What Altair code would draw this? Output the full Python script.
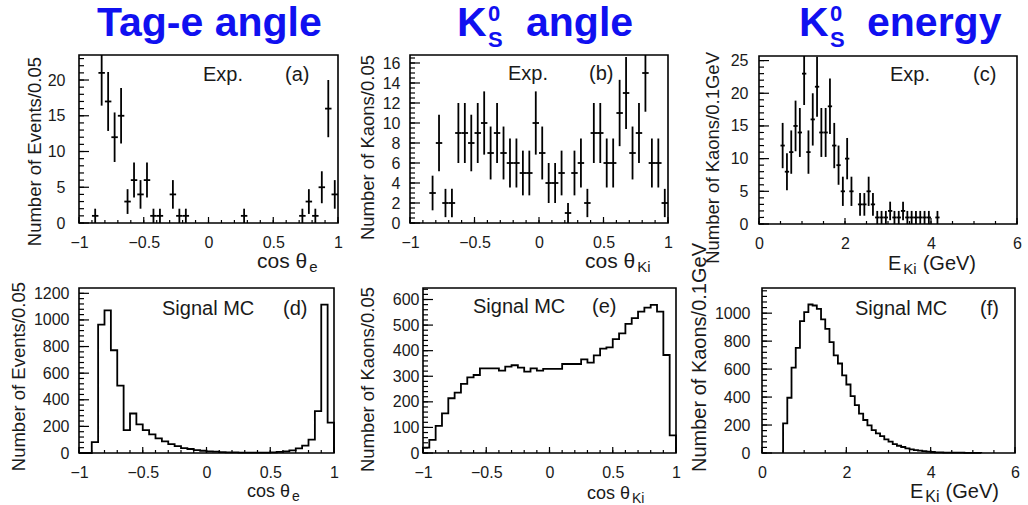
import altair as alt
import numpy as np
import pandas as pd

W, H = 1028, 505
FONT = "Liberation Sans"
TXT = "#1a1a1a"
BLUE = "#1010f0"

# ---------------- data ----------------
# (a) Tag-e angle, experiment: bin centres and counts
a_x = [-0.875, -0.825, -0.775, -0.725, -0.675, -0.625, -0.575, -0.525, -0.475, -0.425,
       -0.375, -0.275, -0.225, -0.175, 0.275, 0.725, 0.775, 0.825, 0.875, 0.925, 0.975]
a_n = [1, 21, 17, 12, 15, 3, 6, 4, 6, 1, 1, 4, 1, 1, 1, 1, 3, 1, 5, 16, 4]

# (b) K0S angle, experiment
b_x = [-0.825, -0.775, -0.725, -0.675, -0.625, -0.575, -0.525, -0.475, -0.425, -0.375,
       -0.325, -0.275, -0.225, -0.175, -0.125, -0.075, -0.025, 0.025, 0.075, 0.125,
       0.175, 0.225, 0.275, 0.325, 0.375, 0.425, 0.475, 0.525, 0.575, 0.625,
       0.675, 0.725, 0.775, 0.825, 0.875, 0.925, 0.975]
b_n = [3, 8, 2, 2, 9, 9, 8, 9, 10, 7, 9, 7, 6, 6, 5, 5, 10, 7, 4, 4,
       5, 1, 5, 6, 2, 9, 9, 6, 6, 11, 13, 7, 9, 15, 6, 6, 2]

# (c) K0S energy, experiment
c_x = [0.55, 0.65, 0.75, 0.85, 0.95, 1.05, 1.15, 1.25, 1.35, 1.45, 1.55, 1.65, 1.75, 1.85,
       1.95, 2.05, 2.15, 2.35, 2.45, 2.55, 2.65, 2.75, 2.85, 2.95, 3.05, 3.15, 3.25, 3.35,
       3.45, 3.55, 3.65, 3.75, 3.85, 3.95, 4.15]
c_n = [12, 8, 11, 15, 14, 23, 11, 16, 21, 14, 14, 18, 12, 9, 5, 10, 5, 3, 3, 5, 3, 1, 1, 1,
       2, 1, 1, 2, 1, 1, 1, 1, 1, 1, 1]

# (d) Tag-e angle, signal MC: 40 bins of 0.05 from -1
d_start, d_w = -1.0, 0.05
d_v = [0, 0, 82, 965, 1072, 772, 507, 172, 297, 215, 172, 140, 110, 88, 67, 52, 37, 30, 22, 17,
       12, 10, 7, 5, 4, 3, 3, 3, 3, 3, 5, 8, 12, 20, 35, 55, 100, 315, 1115, 228]

# (e) K0S angle, signal MC: 40 bins of 0.05 from -1
e_start, e_w = -1.0, 0.05
e_v = [21, 51, 106, 155, 214, 236, 270, 296, 305, 331, 331, 331, 322, 338, 343, 334, 318, 331,
       322, 329, 329, 329, 348, 348, 348, 366, 353, 382, 408, 413, 445, 468, 505, 527, 553,
       568, 579, 553, 383, 69]

# (f) K0S energy, signal MC: bins of 0.1 GeV from 0.5
f_start, f_w = 0.5, 0.1
f_v = [212, 395, 610, 752, 943, 1007, 1062, 1055, 1031, 955, 888, 793, 698, 640, 555, 490, 407,
       343, 281, 236, 198, 164, 140, 121, 98, 81, 64, 52, 43, 33, 26, 21, 17, 14, 10, 7, 5, 4,
       3, 3, 2, 2, 2, 1, 1, 1, 1]

# tick label values
ang_major = [-1, -0.5, 0, 0.5, 1]
en_major = [0, 2, 4, 6]

# ---------------- panel layout ----------------
panels = {
    "a": dict(xd=[-1, 1], yd=[0, 23.5], xr=[79, 338], yr=[223, 55], xmaj=ang_major,
              xmin=np.round(np.arange(-1, 1.001, 0.1), 3), ymaj=[0, 5, 10, 15, 20],
              ymin=np.arange(0, 24, 1), lp=14, ls=16),
    "b": dict(xd=[-1, 1], yd=[0, 16.8], xr=[410, 668], yr=[223, 55], xmaj=ang_major,
              xmin=np.round(np.arange(-1, 1.001, 0.1), 3), ymaj=list(range(0, 17, 2)),
              ymin=np.arange(0, 16.8, 0.5), lp=10, ls=16),
    "c": dict(xd=[0, 6], yd=[0, 25.7], xr=[759, 1017], yr=[224, 56], xmaj=en_major,
              xmin=np.arange(0, 6.01, 0.5), ymaj=[0, 5, 10, 15, 20, 25],
              ymin=np.arange(0, 26, 1), lp=11, ls=16),
    "d": dict(xd=[-1, 1], yd=[0, 1240], xr=[79, 334], yr=[453, 288], xmaj=ang_major,
              xmin=np.round(np.arange(-1, 1.001, 0.1), 3), ymaj=list(range(0, 1201, 200)),
              ymin=np.arange(0, 1240, 40), lp=10, ls=16),
    "e": dict(xd=[-1, 1], yd=[0, 645], xr=[423, 676], yr=[453, 288], xmaj=ang_major,
              xmin=np.round(np.arange(-1, 1.001, 0.1), 3), ymaj=list(range(0, 601, 100)),
              ymin=np.arange(0, 645, 20), lp=4, ls=16),
    "f": dict(xd=[0, 6], yd=[0, 1180], xr=[762, 1015], yr=[453, 288], xmaj=en_major,
              xmin=np.arange(0, 6.01, 0.5), ymaj=list(range(0, 1001, 200)),
              ymin=np.arange(0, 1180, 40), lp=12, ls=16),
}


def scales(p):
    sx = alt.Scale(domain=p["xd"], range=p["xr"], nice=False, zero=False, clamp=True)
    sy = alt.Scale(domain=p["yd"], range=p["yr"], nice=False, zero=False, clamp=True)
    return sx, sy


def frame_layers(p):
    sx, sy = scales(p)
    df = pd.DataFrame({"x0": [p["xd"][0]], "x1": [p["xd"][1]],
                       "y0": [p["yd"][0]], "y1": [p["yd"][1]]})
    common = dict(format="~r", ticks=False, domain=False, grid=False, labelFlush=False,
                  labelOverlap=False, labelFontSize=p["ls"], labelFont=FONT, labelColor=TXT,
                  title=None)
    xaxis = alt.Axis(orient="bottom", offset=p["yr"][0] - H, values=list(p["xmaj"]),
                     labelPadding=11, **common)
    yaxis = alt.Axis(orient="left", offset=-p["xr"][0], values=list(p["ymaj"]),
                     labelPadding=p["lp"], **common)
    frame = alt.Chart(df).mark_rect(fillOpacity=0, stroke="black", strokeWidth=1.6).encode(
        x=alt.X("x0:Q", scale=sx, axis=xaxis), x2="x1:Q",
        y=alt.Y("y0:Q", scale=sy, axis=yaxis), y2="y1:Q")
    out = [frame]
    # inward ticks
    for vals, ln in ((p["xmaj"], 6), (p["xmin"], 3)):
        out.append(alt.Chart(pd.DataFrame({"t": list(vals)})).mark_rule(
            color="black", strokeWidth=1.2).encode(
            x=alt.X("t:Q", scale=sx, axis=None),
            y=alt.value(p["yr"][0]), y2=alt.value(p["yr"][0] - ln)))
    for vals, ln in ((p["ymaj"], 10), (p["ymin"], 5)):
        out.append(alt.Chart(pd.DataFrame({"t": list(vals)})).mark_rule(
            color="black", strokeWidth=1.2).encode(
            y=alt.Y("t:Q", scale=sy, axis=None),
            x=alt.value(p["xr"][0]), x2=alt.value(p["xr"][0] + ln)))
    return out


def points_layers(p, xs, ns, bw):
    sx, sy = scales(p)
    n = np.array(ns, dtype=float)
    x = np.array(xs, dtype=float)
    err = np.sqrt(n)
    df = pd.DataFrame({"x": x, "n": n, "lo": n - err, "hi": n + err,
                       "xl": x - bw / 2, "xr": x + bw / 2})
    v = alt.Chart(df).mark_rule(color="black", strokeWidth=1.8).encode(
        x=alt.X("x:Q", scale=sx, axis=None),
        y=alt.Y("lo:Q", scale=sy, axis=None), y2="hi:Q")
    h = alt.Chart(df).mark_rule(color="black", strokeWidth=1.8).encode(
        x=alt.X("xl:Q", scale=sx, axis=None), x2="xr:Q",
        y=alt.Y("n:Q", scale=sy, axis=None))
    return [v, h]


def hist_layer(p, start, w, vals):
    sx, sy = scales(p)
    edges = [start + i * w for i in range(len(vals) + 1)]
    xs = [edges[0]] + edges + [edges[-1]]
    ys = [0] + list(vals) + [vals[-1], 0]
    df = pd.DataFrame({"x": np.round(xs, 4), "y": ys, "i": range(len(xs))})
    return alt.Chart(df).mark_line(interpolate="step-after", color="black", strokeWidth=1.8).encode(
        x=alt.X("x:Q", scale=sx, axis=None),
        y=alt.Y("y:Q", scale=sy, axis=None),
        order="i:Q")


def text(t, x, y, size, color=TXT, align="left", baseline="alphabetic", angle=0, bold=False):
    kw = dict(align=align, baseline=baseline, font=FONT, fontSize=size, color=color)
    if angle:
        kw["angle"] = angle
    if bold:
        kw["fontWeight"] = "bold"
    return alt.Chart(pd.DataFrame({"t": [t]})).mark_text(**kw).encode(
        text="t:N", x=alt.value(x), y=alt.value(y))


layers = []
for key in "abcdef":
    layers += frame_layers(panels[key])

layers += points_layers(panels["a"], a_x, a_n, 0.05)
layers += points_layers(panels["b"], b_x, b_n, 0.05)
layers += points_layers(panels["c"], c_x, c_n, 0.1)
layers.append(hist_layer(panels["d"], d_start, d_w, d_v))
layers.append(hist_layer(panels["e"], e_start, e_w, e_v))
layers.append(hist_layer(panels["f"], f_start, f_w, f_v))

# in-panel labels
for t, x, y in [("Exp.", 203, 81), ("(a)", 285, 81), ("Exp.", 508, 80), ("(b)", 589, 80),
                ("Exp.", 890, 81), ("(c)", 973, 81), ("Signal MC", 162, 315), ("(d)", 283, 315),
                ("Signal MC", 473, 313), ("(e)", 592, 313), ("Signal MC", 855, 315),
                ("(f)", 980, 315)]:
    layers.append(text(t, x, y, 20))

# y-axis titles (rotated, anchored at the top end)
for t, x, y, s in [("Number of Events/0.05", 35, 57, 18.5), ("Number of Kaons/0.05", 368, 55, 18.5),
                   ("Number of Kaons/0.1GeV", 713, 52, 18.5), ("Number of Events/0.05", 19, 282, 18.5),
                   ("Number of Kaons/0.05", 368, 287, 18.5), ("Number of Kaons/0.1GeV", 700, 243, 20)]:
    layers.append(text(t, x, y, s, align="right", baseline="middle", angle=270))

# x-axis titles with subscripts:  (main, sub, left x, baseline, main size, sub size)
for main, sub, xl, yb, s, ss in [("cos θ", "e", 257, 268, 21, 15), ("cos θ", "Ki", 585, 268, 21, 15),
                                 ("cos θ", "e", 247, 497, 18, 14), ("cos θ", "Ki", 587, 499, 18, 14)]:
    wmain = 2.39 * s
    layers.append(text(main, xl, yb, s))
    layers.append(text(sub, xl + wmain + 2, yb + 4, ss))
for xe, ye, s, ss in [(888, 270, 20, 15), (910, 498, 20, 16)]:
    layers.append(text("E", xe, ye, s))
    layers.append(text("Ki", xe + 0.667 * s + 2, ye + 4, ss))
    layers.append(text("(GeV)", xe + 0.667 * s + 0.889 * ss + 8, ye, s))

# blue headline titles
layers.append(text("Tag-e angle", 97, 36, 41, color=BLUE, bold=True))
for kx, word, wx in [(457, "angle", 526), (799, "energy", 867)]:
    layers.append(text("K", kx, 36, 41, color=BLUE, bold=True))
    layers.append(text("0", kx + 31, 21, 22, color=BLUE, bold=True))
    layers.append(text("S", kx + 31, 47, 22, color=BLUE, bold=True))
    layers.append(text(word, wx, 36, 41, color=BLUE, bold=True))

chart = alt.layer(*layers).properties(
    width=W, height=H, autosize=alt.AutoSizeParams(type="none"), padding=0,
    background="white"
).resolve_scale(x="independent", y="independent").configure_view(stroke=None)

chart.save("out.html", embed_options={"renderer": "svg", "actions": False})
